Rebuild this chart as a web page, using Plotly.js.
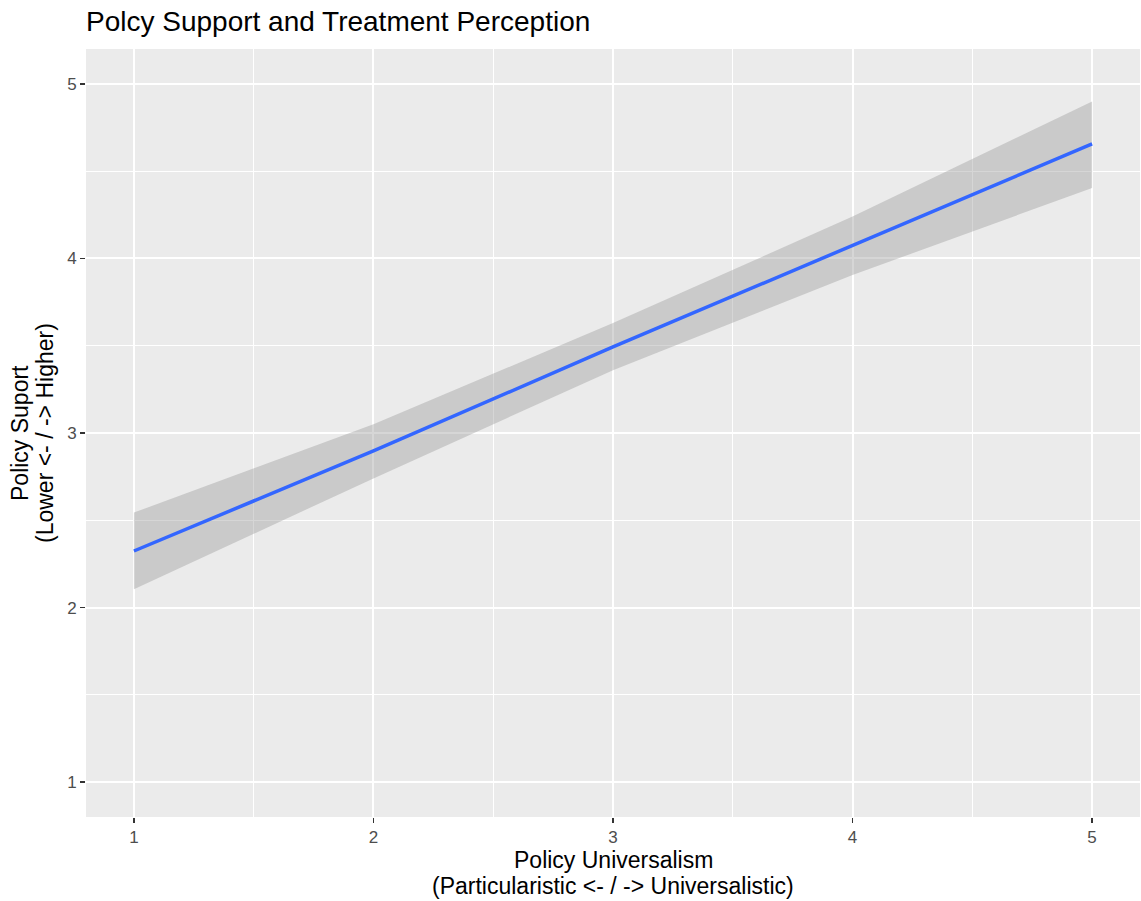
<!DOCTYPE html>
<html>
<head>
<meta charset="utf-8">
<script src="https://cdn.plot.ly/plotly-3.0.1.min.js"></script>
<style>html,body{margin:0;padding:0;background:#fff;}#chart{width:1141px;height:901px;}</style>
</head>
<body>
<div id="chart"></div>
<script>
const universalism = [1, 2, 3, 4, 5];
const fitSupport = [2.324, 2.897, 3.493, 4.077, 4.656];
const lowerCI = [2.105, 2.74, 3.36, 3.905, 4.404];
const upperCI = [2.544, 3.05, 3.63, 4.24, 4.899];
const tickVals = [1, 2, 3, 4, 5];
const tickLabels = ['1', '2', '3', '4', '5'];
const xTitleLines = ['Policy Universalism', '(Particularistic &lt;- / -&gt; Universalistic)'];
const yTitleLines = ['Policy Suport', '(Lower &lt;- / -&gt; Higher)'];

const font = 'Liberation Sans, Arial, Helvetica, sans-serif';

const traces = [
  {x: universalism, y: lowerCI, type: 'scatter', mode: 'lines', line: {width: 0, color: 'rgba(0,0,0,0)'}, hoverinfo: 'skip', showlegend: false},
  {x: universalism, y: upperCI, type: 'scatter', mode: 'lines', line: {width: 0, color: 'rgba(0,0,0,0)'}, fill: 'tonexty', fillcolor: 'rgba(153,153,153,0.4)', hoverinfo: 'skip', showlegend: false},
  {x: universalism, y: fitSupport, type: 'scatter', mode: 'lines', line: {width: 3.5, color: '#3366FF'}, showlegend: false}
];

const axisCommon = {
  range: [0.8, 5.2],
  tickvals: tickVals,
  ticktext: tickLabels,
  ticks: 'outside',
  ticklen: 5,
  tickwidth: 1.2,
  tickcolor: '#333333',
  tickfont: {family: font, size: 17, color: '#4D4D4D'},
  showgrid: true,
  gridcolor: '#FFFFFF',
  gridwidth: 2,
  zeroline: false,
  showline: false,
  minor: {dtick: 0.5, tick0: 0.5, showgrid: true, gridcolor: '#FFFFFF', gridwidth: 1, ticks: ''}
};

const titleFont = {family: font, size: 23, color: '#000000'};
const annotations = [
  {text: xTitleLines[0], xref: 'paper', yref: 'paper', x: 0.5, y: 0, xanchor: 'center', yanchor: 'middle', yshift: -43, showarrow: false, font: titleFont},
  {text: xTitleLines[1], xref: 'paper', yref: 'paper', x: 0.5, y: 0, xanchor: 'center', yanchor: 'middle', yshift: -69, showarrow: false, font: titleFont},
  {text: yTitleLines[0], xref: 'paper', yref: 'paper', x: 0, y: 0.5, xanchor: 'center', yanchor: 'middle', xshift: -66, textangle: -90, showarrow: false, font: titleFont},
  {text: yTitleLines[1], xref: 'paper', yref: 'paper', x: 0, y: 0.5, xanchor: 'center', yanchor: 'middle', xshift: -41, textangle: -90, showarrow: false, font: titleFont}
];

const layout = {
  width: 1141,
  height: 901,
  paper_bgcolor: '#FFFFFF',
  plot_bgcolor: '#EBEBEB',
  margin: {l: 86, r: 1, t: 49, b: 84},
  title: {text: 'Polcy Support and Treatment Perception', x: 86/1141, xref: 'container', xanchor: 'left', y: 1 - 21/901, yref: 'container', yanchor: 'middle', font: {family: font, size: 28, color: '#000000'}},
  xaxis: Object.assign({}, axisCommon),
  yaxis: Object.assign({}, axisCommon),
  annotations: annotations,
  showlegend: false
};

Plotly.newPlot('chart', traces, layout, {displayModeBar: false, staticPlot: true});
</script>
</body>
</html>
